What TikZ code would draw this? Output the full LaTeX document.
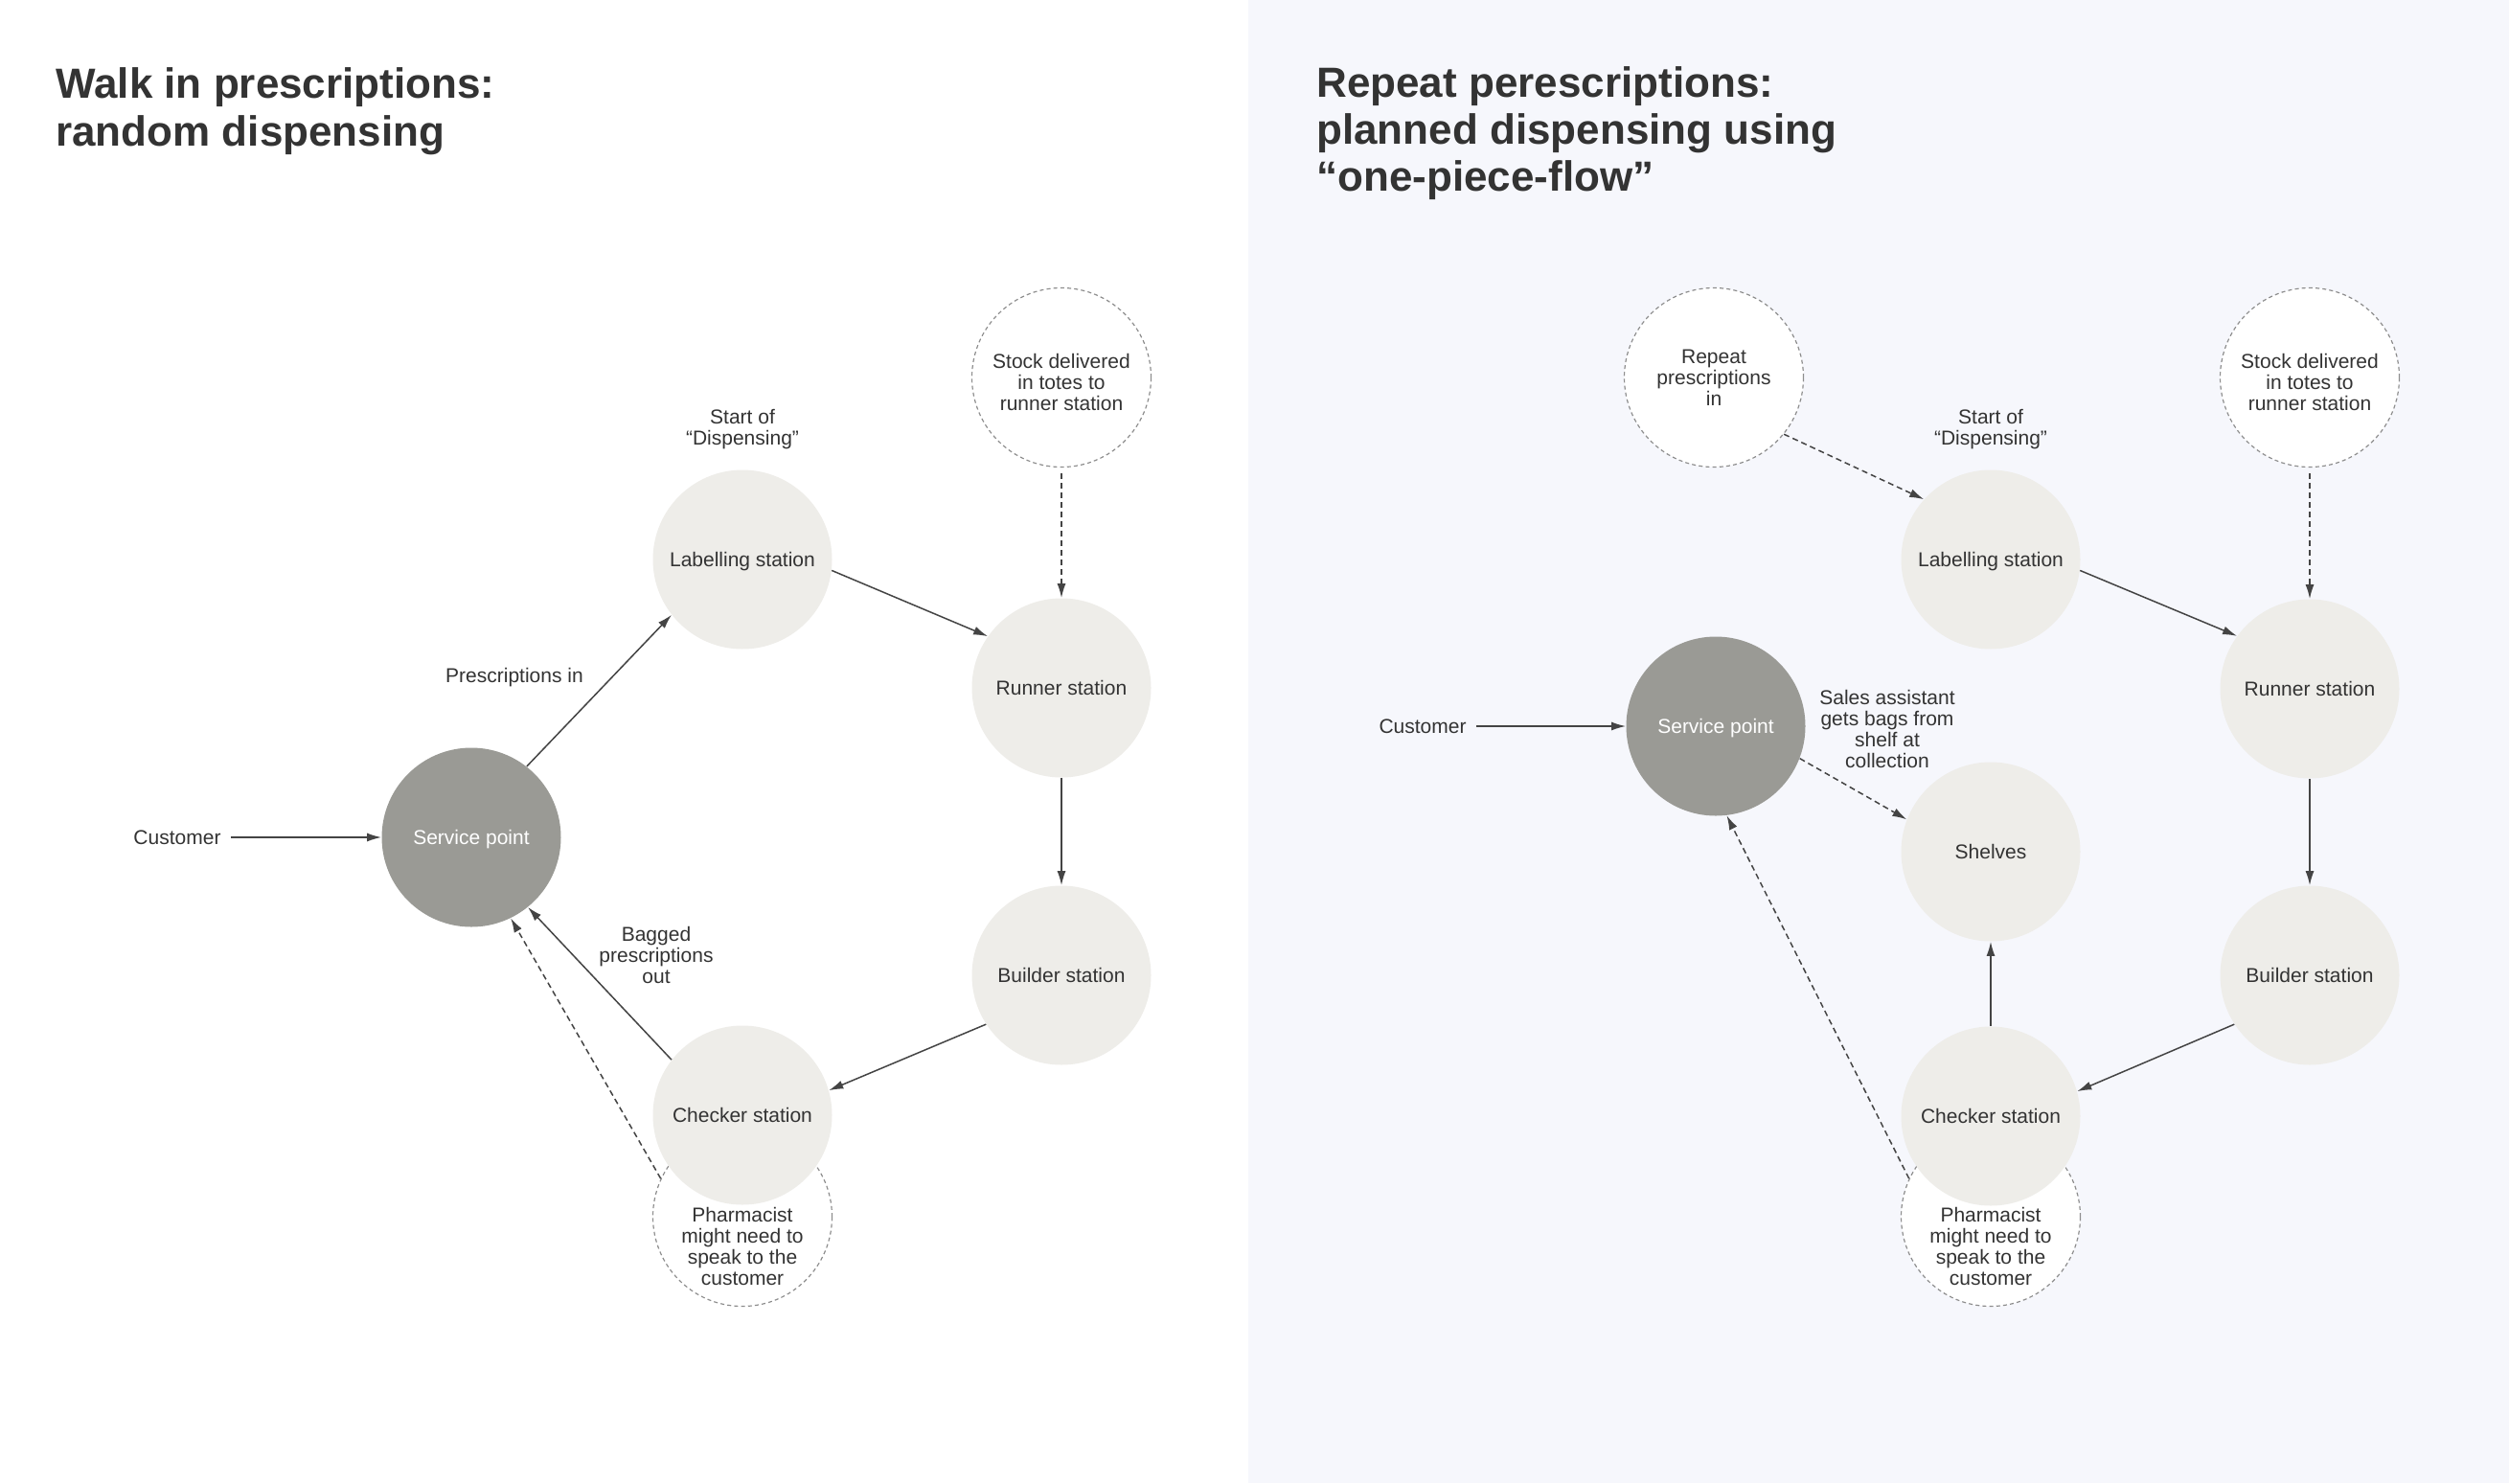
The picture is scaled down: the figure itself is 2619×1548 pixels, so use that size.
\documentclass[tikz,border=0pt]{standalone}
\usepackage{fontspec}
\setmainfont{Liberation Sans}
\usetikzlibrary{arrows.meta}
\definecolor{txt}{HTML}{333333}
\definecolor{ln}{HTML}{444444}
\definecolor{stn}{HTML}{EEEDE9}
\definecolor{svc}{HTML}{9A9A95}
\definecolor{bgr}{HTML}{F6F7FC}
\definecolor{dsh}{HTML}{8E8E8E}
\newcommand\smalltxt{\fontsize{10.5}{11}\selectfont}
\newcommand\titletxt{\fontsize{22}{25}\selectfont\bfseries}
\begin{document}
\begin{tikzpicture}[x=0.5pt,y=-0.5pt,
  station/.style={circle,fill=stn,minimum size=93.5pt,inner sep=0pt,text=txt,font=\smalltxt,text height=7.7pt,text depth=0pt},
  service/.style={circle,fill=svc,minimum size=93.5pt,inner sep=0pt,text=white,font=\smalltxt,text height=7.7pt,text depth=0pt},
  dcirc/.style={circle,draw=dsh,fill=white,line width=0.6pt,dash pattern=on 2pt off 1.6pt,minimum size=93.5pt,inner sep=0pt,text=txt,font=\smalltxt,align=center},
  lbl/.style={text=txt,font=\smalltxt,align=center,inner sep=0pt},
  cust/.style={text=txt,font=\smalltxt,inner xsep=5pt,inner ysep=0pt},
  ttl/.style={text=txt,font=\titletxt,anchor=base west,inner sep=0pt},
  flow/.style={draw=ln,line width=0.75pt,-{Latex[length=7.5pt,width=4.5pt]}},
  dflow/.style={flow,dash pattern=on 3pt off 2pt}
]
\useasboundingbox (0,0) rectangle (2619,1548);
\fill[white] (0,0) rectangle (2619,1548);
\fill[bgr] (1303,0) rectangle (2619,1548);

% ---------- Left panel ----------
\node[ttl] (t1a) at (58,102) {Walk in prescriptions:};
\node[ttl] (t1b) at (58,152) {random dispensing};

\node[dcirc] (ph) at (775,1270) {};
\node[lbl] (pht) at (775,1301) {Pharmacist\\might need to\\speak to the\\customer};
\node[service] (sp) at (492,874) {Service point};
\node[station] (lab) at (775,584) {Labelling station};
\node[station] (run) at (1108,718) {Runner station};
\node[station] (bld) at (1108,1018) {Builder station};
\node[station] (chk) at (775,1164) {Checker station};
\node[dcirc] (stk) at (1108,394) {};
\node[lbl] (stkt) at (1108,399) {Stock delivered\\in totes to\\runner station};

\node[cust] (cus) at (185,874) {Customer};
\node[lbl] (sod) at (775,448) {Start of\\“Dispensing”};
\node[lbl] (pin) at (537,707) {Prescriptions in};
\node[lbl] (bag) at (685,997) {Bagged\\prescriptions\\out};

\draw[flow] (cus.east) -- (sp.west);
\draw[flow] (sp.52) -- (lab.218);
\draw[flow] (lab.-7) -- (run.145);
\draw[dflow] (stk.south) ++(0,6) -- (run.north);
\draw[flow] (run.south) -- (bld.north);
\draw[flow] (bld.213) -- (chk.16);
\draw[flow] (chk.142) -- (sp.-51.5);
\draw[dflow] (ph.155) -- (sp.-64);

% ---------- Right panel ----------
\node[ttl] (t2a) at (1374,101) {Repeat perescriptions:};
\node[ttl] (t2b) at (1374,150) {planned dispensing using};
\node[ttl] (t2c) at (1374,199) {“one-piece-flow”};

\node[dcirc] (ph2) at (2078,1270) {};
\node[lbl] (pht2) at (2078,1301) {Pharmacist\\might need to\\speak to the\\customer};
\node[service] (sp2) at (1791,758) {Service point};
\node[station] (lab2) at (2078,584) {Labelling station};
\node[station] (run2) at (2411,719) {Runner station};
\node[station] (bld2) at (2411,1018) {Builder station};
\node[station] (chk2) at (2078,1165) {Checker station};
\node[station] (sh) at (2078,889) {Shelves};
\node[dcirc] (stk2) at (2411,394) {};
\node[lbl] (stkt2) at (2411,399) {Stock delivered\\in totes to\\runner station};
\node[dcirc] (rep) at (1789,394) {Repeat\\prescriptions\\in};

\node[cust] (cus2) at (1485,758) {Customer};
\node[lbl] (sod2) at (2078,448) {Start of\\“Dispensing”};
\node[lbl] (sal) at (1970,761) {Sales assistant\\gets bags from\\shelf at\\collection};

\draw[flow] (cus2.east) -- (sp2.west);
\draw[dflow] (rep.-39) -- (lab2.138);
\draw[flow] (lab2.-7) -- (run2.144.5);
\draw[dflow] (stk2.south) ++(0,6) -- (run2.north);
\draw[flow] (run2.south) -- (bld2.north);
\draw[flow] (bld2.213) -- (chk2.16);
\draw[flow] (chk2.north) -- (sh.south);
\draw[dflow] (sp2.-21) -- (sh.159);
\draw[dflow] (ph2.155) -- (sp2.-83);
\end{tikzpicture}
\end{document}
